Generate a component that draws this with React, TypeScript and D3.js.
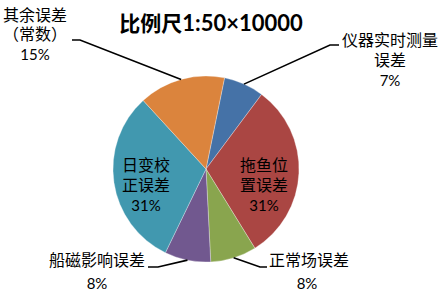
import React from "react";
import * as d3 from "d3";

const categories = ["仪器实时测量误差", "拖鱼位置误差", "正常场误差", "船磁影响误差", "日变校正误差", "其余误差（常数）"];
const values = [7, 31, 8, 8, 31, 15];
const percentLabels = ["7%", "31%", "8%", "8%", "31%", "15%"];
const labelLines = [
  ["仪器实时测量", "误差"],
  ["拖鱼位", "置误差"],
  ["正常场误差"],
  ["船磁影响误差"],
  ["日变校", "正误差"],
  ["其余误差", "（常数）"],
];
const colors = ["#4572A7", "#AA4643", "#89A54E", "#71588F", "#4198AF", "#DB843D"];
const title = "比例尺";
const titleScale = "1:50×10000";

const W = 443, H = 296;
const cx = 206, cy = 169, R = 93;
const START = (11.5 * Math.PI) / 180;

type Lay = { x: number; y: number[]; inside: boolean; elbow?: [number, number]; end?: [number, number]; pctX?: number };
const layout: Lay[] = [
  { x: 390, y: [46, 66, 86], inside: false, elbow: [330, 45], end: [339, 45] },
  { x: 264, y: [171, 191, 211], inside: true },
  { x: 309, y: [266, 289], inside: false, elbow: [260, 267], end: [267, 267], pctX: 307 },
  { x: 97, y: [266, 289], inside: false, elbow: [158, 267], end: [148, 267], pctX: 97 },
  { x: 146, y: [171, 191, 211], inside: true },
  { x: 35, y: [21, 40, 60], inside: false, elbow: [80, 40], end: [72, 40] },
];

const CJK = "'Noto Sans CJK SC', sans-serif";
const LAT = "Lato, 'Noto Sans', sans-serif";

export default function App() {
  const pie = d3.pie<number>().sort(null).value((d) => d).startAngle(START).endAngle(START + 2 * Math.PI);
  const arcs = pie(values);
  const arc = d3.arc<d3.PieArcDatum<number>>().innerRadius(0).outerRadius(R);

  return (
    <svg width={W} height={H} style={{ position: "absolute", left: 0, top: 0, background: "#fff" }}>
      <rect width={W} height={H} fill="#fff" />
      <g transform={`translate(${cx},${cy})`}>
        {arcs.map((a, i) => (
          <path key={i} d={arc(a) || ""} fill={colors[i]} stroke="#fff" strokeWidth={0.3} />
        ))}
      </g>
      {arcs.map((a, i) => {
        const L = layout[i];
        if (L.inside || !L.elbow || !L.end) return null;
        const mid = (a.startAngle + a.endAngle) / 2;
        const sx = cx + R * Math.sin(mid);
        const sy = cy - R * Math.cos(mid);
        return (
          <polyline key={"l" + i} points={`${sx},${sy} ${L.elbow[0]},${L.elbow[1]} ${L.end[0]},${L.end[1]}`} fill="none" stroke="#000" strokeWidth={1.6} />
        );
      })}
      {layout.map((L, i) => {
        const lines = labelLines[i];
        return (
          <g key={"t" + i} textAnchor="middle" fill="#000">
            {lines.map((s, j) => (
              <text key={j} x={L.x} y={L.y[j]} fontFamily={CJK} fontSize={16}>{s}</text>
            ))}
            <text x={L.pctX ?? L.x} y={L.y[lines.length]} fontFamily={LAT} fontSize={15}>{percentLabels[i]}</text>
          </g>
        );
      })}
      <text x={211} y={31} textAnchor="middle" fontWeight="bold" fill="#000">
        <tspan fontFamily={CJK} fontSize={21}>{title}</tspan>
        <tspan fontFamily={LAT} fontSize={22}>{titleScale}</tspan>
      </text>
    </svg>
  );
}
